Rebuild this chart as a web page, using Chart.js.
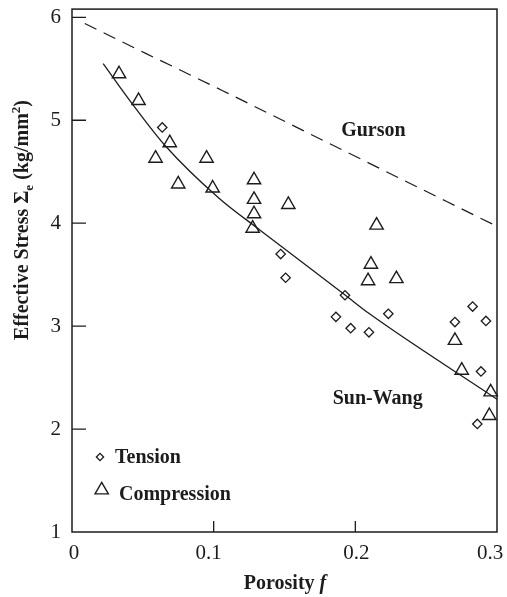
<!DOCTYPE html>
<html>
<head>
<meta charset="utf-8">
<script src="https://cdn.jsdelivr.net/npm/chart.js@4"></script>
<style>
  html, body { margin: 0; padding: 0; background: #ffffff; }
  #wrap { width: 507px; height: 597px; position: relative; }
</style>
</head>
<body>
<div id="wrap"><canvas id="c" width="507" height="597"></canvas></div>
<script>
// ---- data ----
const tensionF = [0.0637, 0.1473, 0.1508, 0.1927, 0.1863, 0.1967, 0.2096, 0.2233, 0.2703, 0.2828, 0.2922, 0.2887, 0.2861];
const tensionS = [4.93, 3.70, 3.47, 3.30, 3.09, 2.98, 2.94, 3.12, 3.04, 3.19, 3.05, 2.56, 2.05];

const compressionF = [0.0332, 0.047, 0.069, 0.059, 0.095, 0.075, 0.0993, 0.1285, 0.1285, 0.1285, 0.1275, 0.1527, 0.215, 0.211, 0.209, 0.229, 0.2703, 0.2751, 0.2955, 0.2946];
const compressionS = [5.45, 5.19, 4.78, 4.63, 4.63, 4.38, 4.34, 4.42, 4.23, 4.09, 3.95, 4.18, 3.98, 3.60, 3.44, 3.46, 2.86, 2.57, 2.36, 2.13];

const sunWangF = [0.022, 0.042, 0.066, 0.104, 0.133, 0.193, 0.210, 0.300];
const sunWangS = [5.55, 5.17, 4.75, 4.24, 3.93, 3.30, 3.12, 2.29];

const gursonF = [0.009, 0.052, 0.106, 0.2645, 0.300];
const gursonS = [5.94, 5.65, 5.29, 4.21, 3.97];

const xTickValues = [0, 0.1, 0.2, 0.3];
const xTickLabels = ['0', '0.1', '0.2', '0.3'];
const yTickValues = [1, 2, 3, 4, 5, 6];
const yTickLabels = ['1', '2', '3', '4', '5', '6'];

const seriesNames = ['Tension', 'Compression', 'Sun-Wang', 'Gurson'];
const xTitle = 'Porosity ';
const xTitleItalic = 'f';

// ---- build ----
const toPts = (xs, ys) => xs.map((x, i) => ({ x: x, y: ys[i] }));
const INK = '#1c1c1c';
const SERIF = '"Liberation Serif", "DejaVu Serif", serif';
const xLabelShift = [2, -5, 1, -7];

const overlay = {
  id: 'overlay',
  beforeDraw(chart) {
    const xs = chart.scales.x;
    const items = xs.getLabelItems(chart.chartArea);
    if (!xs._shifted) {
      items.forEach((it, i) => { if (it.options && it.options.translation) it.options.translation[0] += (xLabelShift[i] || 0); });
      xs._shifted = true;
    }
  },
  afterDraw(chart) {
    const ctx = chart.ctx;
    const a = chart.chartArea;
    const xs = chart.scales.x, ys = chart.scales.y;
    ctx.save();
    // frame
    ctx.strokeStyle = INK;
    ctx.lineWidth = 1.5;
    ctx.strokeRect(a.left, a.top, a.right - a.left, a.bottom - a.top);
    // inward tick marks
    ctx.lineWidth = 1.3;
    ctx.beginPath();
    yTickValues.forEach(v => {
      const p = ys.getPixelForValue(v);
      if (p > a.top + 2 && p < a.bottom - 2) { ctx.moveTo(a.left, p); ctx.lineTo(a.left + 14, p); }
    });
    xTickValues.forEach(v => {
      const p = xs.getPixelForValue(v);
      if (p > a.left + 2 && p < a.right - 2) { ctx.moveTo(p, a.bottom); ctx.lineTo(p, a.bottom - 11); }
    });
    ctx.stroke();

    // legend markers (hollow)
    ctx.fillStyle = 'rgba(0,0,0,0)';
    ctx.strokeStyle = INK;
    ctx.lineWidth = 1.3;
    Chart.helpers.drawPoint(ctx, { pointStyle: 'rectRot', radius: 3.6, borderWidth: 1.3 }, 100, 457);
    ctx.lineWidth = 1.4;
    Chart.helpers.drawPoint(ctx, { pointStyle: 'triangle', radius: 7.7, borderWidth: 1.4 }, 101.7, 490);

    ctx.fillStyle = INK;
    ctx.textBaseline = 'alphabetic';
    ctx.textAlign = 'left';
    ctx.font = 'bold 20px ' + SERIF;
    ctx.fillText(seriesNames[0], 115, 463);
    ctx.fillText(seriesNames[1], 119, 500);
    // curve labels
    ctx.fillText(seriesNames[3], xs.getPixelForValue(0.190), ys.getPixelForValue(4.85));
    ctx.fillText(seriesNames[2], xs.getPixelForValue(0.184), ys.getPixelForValue(2.24));

    // x title
    ctx.font = 'bold 20px ' + SERIF;
    const w1 = ctx.measureText(xTitle).width;
    ctx.font = 'bold italic 20px ' + SERIF;
    const w2 = ctx.measureText(xTitleItalic).width;
    let sx = 285 - (w1 + w2) / 2;
    ctx.font = 'bold 20px ' + SERIF;
    ctx.fillText(xTitle, sx, 589);
    ctx.font = 'bold italic 20px ' + SERIF;
    ctx.fillText(xTitleItalic, sx + w1, 589);

    // y title (rotated)
    const parts = [
      { t: 'Effective Stress ', f: 'bold 20px ' + SERIF, dy: 0 },
      { t: '\u03A3', f: 'bold 20px ' + SERIF, dy: 0 },
      { t: 'e', f: 'bold 13px ' + SERIF, dy: 5 },
      { t: ' (kg/mm', f: 'bold 20px ' + SERIF, dy: 0 },
      { t: '2', f: 'bold 13px ' + SERIF, dy: -8 },
      { t: ')', f: 'bold 20px ' + SERIF, dy: 0 }
    ];
    let total = 0;
    parts.forEach(p => { ctx.font = p.f; p.w = ctx.measureText(p.t).width; total += p.w; });
    ctx.translate(28, 220);
    ctx.rotate(-Math.PI / 2);
    let px = -total / 2;
    parts.forEach(p => { ctx.font = p.f; ctx.fillText(p.t, px, p.dy); px += p.w; });
    ctx.restore();
  }
};

new Chart(document.getElementById('c'), {
  type: 'scatter',
  data: {
    datasets: [
      {
        label: seriesNames[3],
        data: toPts(gursonF, gursonS),
        showLine: true,
        borderColor: INK,
        borderWidth: 1.2,
        borderDash: [13, 8],
        pointRadius: 0,
        fill: false,
        clip: false
      },
      {
        label: seriesNames[2],
        data: toPts(sunWangF, sunWangS),
        showLine: true,
        borderColor: INK,
        borderWidth: 1.3,
        cubicInterpolationMode: 'monotone',
        pointRadius: 0,
        fill: false,
        clip: false
      },
      {
        label: seriesNames[0],
        data: toPts(tensionF, tensionS),
        pointStyle: 'rectRot',
        pointRadius: 4.7,
        pointBorderWidth: 1.3,
        borderColor: INK,
        backgroundColor: 'rgba(0,0,0,0)',
        showLine: false,
        clip: false
      },
      {
        label: seriesNames[1],
        data: toPts(compressionF, compressionS),
        pointStyle: 'triangle',
        pointRadius: 7.7,
        pointBorderWidth: 1.4,
        borderColor: INK,
        backgroundColor: 'rgba(0,0,0,0)',
        showLine: false,
        clip: false
      }
    ]
  },
  options: {
    responsive: false,
    animation: false,
    events: [],
    layout: { padding: { top: 5, left: 0, right: 0, bottom: 0 } },
    plugins: { legend: { display: false }, tooltip: { enabled: false }, title: { display: false } },
    scales: {
      x: {
        type: 'linear',
        min: 0, max: 0.3,
        grid: { display: false, drawTicks: false },
        border: { display: false },
        afterBuildTicks: s => { s.ticks = xTickValues.map(v => ({ value: v })); },
        afterFit: s => { s.height = 65; s.paddingLeft = 0; s.paddingRight = 10; },
        ticks: {
          autoSkip: false,
          maxRotation: 0,
          padding: 9,
          color: INK,
          font: { family: SERIF, size: 21 },
          callback: (v, i) => xTickLabels[i]
        }
      },
      y: {
        type: 'linear',
        min: 1, max: 6.08,
        grid: { display: false, drawTicks: false },
        border: { display: false },
        afterBuildTicks: s => { s.ticks = yTickValues.map(v => ({ value: v })); },
        afterFit: s => { s.width = 72; s.paddingTop = 0; s.paddingBottom = 0; },
        ticks: {
          autoSkip: false,
          padding: 11,
          color: INK,
          font: { family: SERIF, size: 21 },
          callback: (v, i) => yTickLabels[i]
        }
      }
    }
  },
  plugins: [overlay]
});
</script>
</body>
</html>
